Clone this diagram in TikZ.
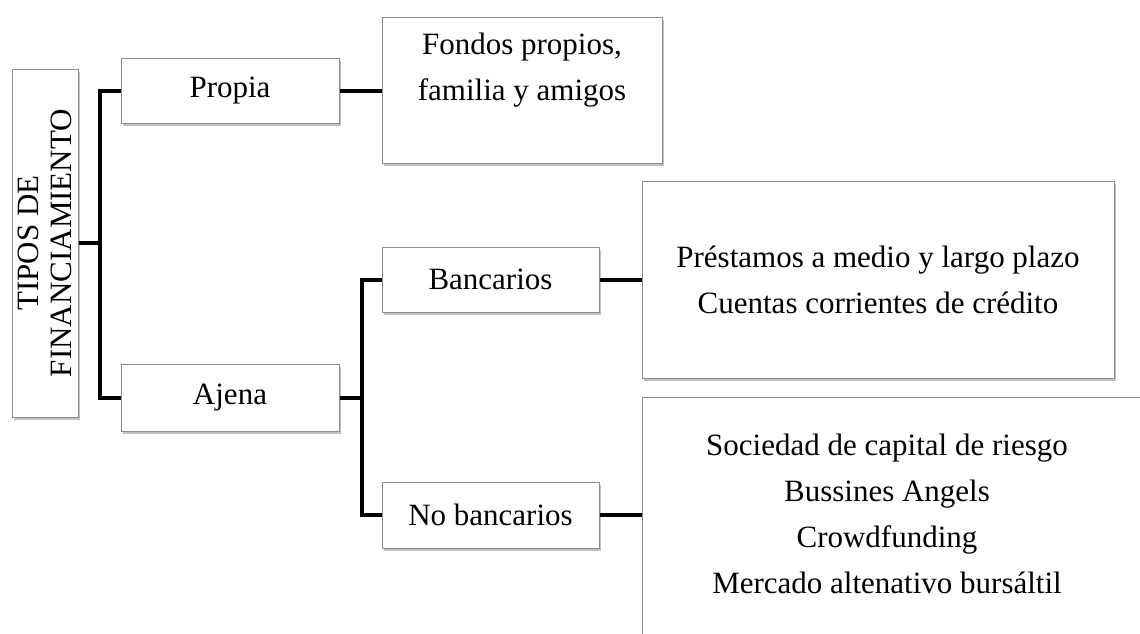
\documentclass[tikz,border=0pt]{standalone}
\usepackage{fontspec}
\setmainfont{Liberation Serif}
\usetikzlibrary{shadows}
\begin{document}
\begin{tikzpicture}[x=1pt,y=-1pt,
  box/.style={draw=black!45, line width=1pt, fill=white, inner sep=0pt,
    drop shadow={shadow xshift=1.5pt, shadow yshift=-2.5pt, opacity=0.35, fill=black!70},
    font=\fontsize{31}{46}\selectfont, align=center},
  conn/.style={line width=4pt, line join=miter, black},
  txt/.style={inner sep=0pt, font=\fontsize{31}{46}\selectfont, align=center}]
\useasboundingbox (0,0) rectangle (1140,633);

\node[box, minimum width=66pt, minimum height=348pt] (tipos) at (45,243)
  {\rotatebox{90}{\parbox{320pt}{\centering\fontsize{31}{33}\selectfont TIPOS DE\\FINANCIAMIENTO}}};
\node[box, minimum width=218pt, minimum height=65pt] (propia) at (230,90.5) {Propia};
\node[box, minimum width=218pt, minimum height=67pt] (ajena) at (230,397.5) {Ajena};
\node[box, minimum width=280pt, minimum height=146pt] (fondos) at (522,90)
  {Fondos propios,\\ familia y amigos\\ \mbox{}};
\node[box, minimum width=217pt, minimum height=65pt] (bancarios) at (490.5,279.5) {Bancarios};
\node[box, minimum width=217pt, minimum height=66pt] (nobanc) at (490.5,515) {No bancarios};
\node[box, minimum width=472pt, minimum height=197pt] (prestamos) at (878,279.5)
  {Préstamos a medio y largo plazo\\ Cuentas corrientes de crédito};
\node[box, anchor=north west, minimum width=540pt, minimum height=300pt] (sociedad) at (642,397) {};
\node[txt] (sociedadtxt) at (887,513.5)
  {Sociedad de capital de riesgo\\ Bussines Angels\\ Crowdfunding\\ Mercado altenativo bursáltil};

\coordinate (j1) at (100,243);
\coordinate (j2) at (362,397.5);

\draw[conn] (tipos.east) -- (j1);
\draw[conn] (propia.west) -| (j1) |- (ajena.west);
\draw[conn] (propia.east) -- (propia.east -| fondos.west);
\draw[conn] (ajena.east) -- (j2);
\draw[conn] (bancarios.west) -| (j2) |- (nobanc.west);
\draw[conn] (bancarios.east) -- (bancarios.east -| prestamos.west);
\draw[conn] (nobanc.east) -- (nobanc.east -| sociedad.west);
\end{tikzpicture}
\end{document}
